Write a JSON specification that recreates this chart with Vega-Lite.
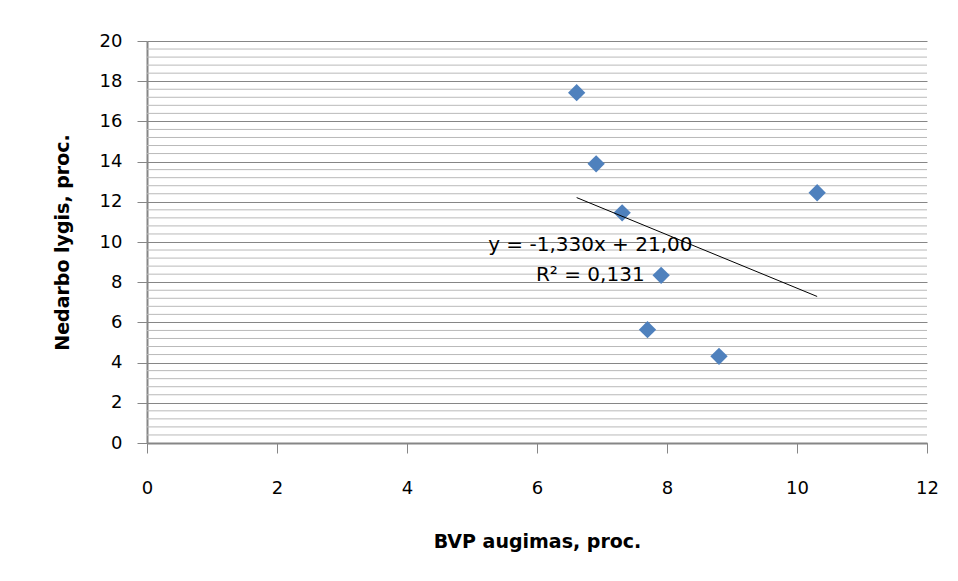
{
  "$schema": "https://vega.github.io/schema/vega-lite/v6.json",
  "width": 780,
  "height": 402,
  "autosize": {"type": "none"},
  "padding": {"left": 147, "top": 41, "right": 31, "bottom": 138},
  "background": "white",
  "config": {
    "view": {"stroke": null},
    "font": "DejaVu Sans",
    "axis": {
      "labelFont": "DejaVu Sans",
      "titleFont": "DejaVu Sans",
      "labelFontSize": 18,
      "titleFontSize": 19,
      "titleFontWeight": "bold",
      "labelColor": "#000000",
      "titleColor": "#000000",
      "domainColor": "#868686",
      "domainWidth": 2,
      "tickColor": "#868686",
      "tickSize": 10,
      "tickWidth": 1
    }
  },
  "datasets": {
    "pts": [
      {"bvp": 6.61, "ned": 17.43},
      {"bvp": 6.91, "ned": 13.89},
      {"bvp": 7.31, "ned": 11.45},
      {"bvp": 10.31, "ned": 12.45},
      {"bvp": 7.91, "ned": 8.34},
      {"bvp": 7.70, "ned": 5.64},
      {"bvp": 8.80, "ned": 4.31}
    ],
    "trend": [
      {"bvp": 6.61, "ned": 12.21},
      {"bvp": 10.31, "ned": 7.29}
    ],
    "labels": [
      {"bvp": 6.82, "ned": 9.87, "txt": "y = -1,330x + 21,00"},
      {"bvp": 6.82, "ned": 8.38, "txt": "R² = 0,131"}
    ],
    "minor": [
      {"v": 0.4}, {"v": 0.8}, {"v": 1.2}, {"v": 1.6},
      {"v": 2.4}, {"v": 2.8}, {"v": 3.2}, {"v": 3.6},
      {"v": 4.4}, {"v": 4.8}, {"v": 5.2}, {"v": 5.6},
      {"v": 6.4}, {"v": 6.8}, {"v": 7.2}, {"v": 7.6},
      {"v": 8.4}, {"v": 8.8}, {"v": 9.2}, {"v": 9.6},
      {"v": 10.4}, {"v": 10.8}, {"v": 11.2}, {"v": 11.6},
      {"v": 12.4}, {"v": 12.8}, {"v": 13.2}, {"v": 13.6},
      {"v": 14.4}, {"v": 14.8}, {"v": 15.2}, {"v": 15.6},
      {"v": 16.4}, {"v": 16.8}, {"v": 17.2}, {"v": 17.6},
      {"v": 18.4}, {"v": 18.8}, {"v": 19.2}, {"v": 19.6}
    ]
  },
  "layer": [
    {
      "data": {"name": "minor"},
      "mark": {"type": "rule", "color": "#b9b9b9", "strokeWidth": 1},
      "encoding": {
        "y": {"field": "v", "type": "quantitative", "scale": {"domain": [0, 20]}}
      }
    },
    {
      "data": {"name": "pts"},
      "mark": {"type": "point", "shape": "diamond", "filled": true, "size": 300, "color": "#4F81BD", "opacity": 1},
      "encoding": {
        "x": {
          "field": "bvp", "type": "quantitative",
          "scale": {"domain": [0, 12], "nice": false, "zero": true},
          "axis": {"values": [0, 2, 4, 6, 8, 10, 12], "format": "d", "grid": false, "labelFlush": false, "labelPadding": 26, "title": "BVP augimas, proc.", "titlePadding": 35}
        },
        "y": {
          "field": "ned", "type": "quantitative",
          "scale": {"domain": [0, 20], "nice": false},
          "axis": {"values": [0, 2, 4, 6, 8, 10, 12, 14, 16, 18, 20], "format": "d", "grid": true, "gridColor": "#868686", "gridWidth": 1, "labelPadding": 15, "title": "Nedarbo lygis, proc.", "titlePadding": 27}
        }
      }
    },
    {
      "data": {"name": "trend"},
      "mark": {"type": "line", "color": "#000000", "strokeWidth": 1},
      "encoding": {
        "x": {"field": "bvp", "type": "quantitative"},
        "y": {"field": "ned", "type": "quantitative"}
      }
    },
    {
      "data": {"name": "labels"},
      "mark": {"type": "text", "fontSize": 20, "font": "DejaVu Sans", "color": "#000000", "align": "center", "baseline": "middle"},
      "encoding": {
        "x": {"field": "bvp", "type": "quantitative"},
        "y": {"field": "ned", "type": "quantitative"},
        "text": {"field": "txt"}
      }
    }
  ]
}
